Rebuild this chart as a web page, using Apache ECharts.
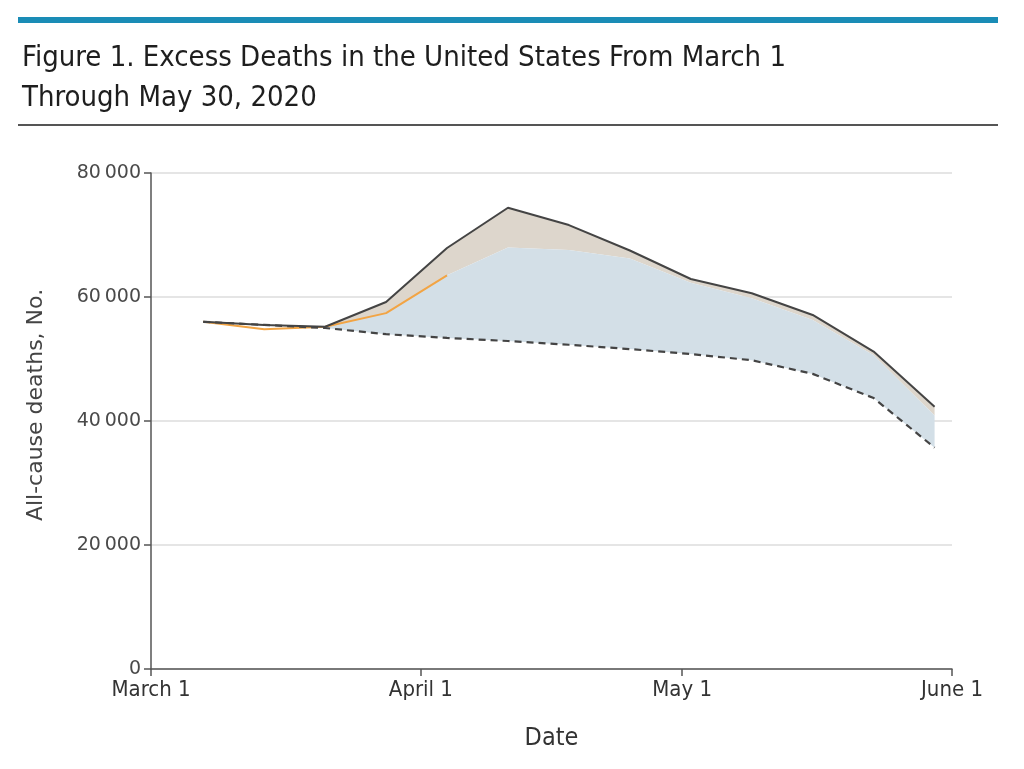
<!DOCTYPE html>
<html>
<head>
<meta charset="utf-8">
<script src="https://cdn.jsdelivr.net/npm/echarts@6/dist/echarts.min.js"></script>
<style>
html,body{margin:0;padding:0;background:#fff;}
#c{width:1024px;height:769px;}
</style>
</head>
<body>
<div id="c"></div>
<script>
// ---- data (weekly, week ending) ----
const weekEnding = ['2020-03-07','2020-03-14','2020-03-21','2020-03-28','2020-04-04','2020-04-11','2020-04-18','2020-04-25','2020-05-02','2020-05-09','2020-05-16','2020-05-23','2020-05-30'];
const totalDeaths = [56000, 55500, 55200, 59200, 67900, 74400, 71600, 67500, 62900, 60600, 57100, 51200, 42300];
const expectedDeaths = [56000, 55500, 55000, 54000, 53400, 52900, 52300, 51600, 50800, 49800, 47600, 43700, 35700];
const covidPlusExpected = [56000, 54800, 55200, 57400, 63500, 68000, 67600, 66200, 62300, 59800, 56300, 50600, 40900];
const orangeShownWeeks = 5;
const monthTicks = ['2020-03-01','2020-04-01','2020-05-01','2020-06-01'];
const monthNames = ['January','February','March','April','May','June','July','August','September','October','November','December'];

function ts(s){ const p = s.split('-').map(Number); return Date.UTC(p[0], p[1]-1, p[2]); }
const origin = ts(monthTicks[0]);
function dayOf(s){ return Math.round((ts(s) - origin) / 86400000); }
function labelOfDay(d){ const dt = new Date(origin + d*86400000); return monthNames[dt.getUTCMonth()] + ' ' + dt.getUTCDate(); }

const xs = weekEnding.map(dayOf);
const tickDays = monthTicks.map(dayOf);
const blueTop = covidPlusExpected.map((v,i)=>Math.max(v, expectedDeaths[i]));

function bandSeries(name, upper, lower, color){
  return {
    name:name, type:'custom', z:2, silent:true,
    data:[[xs[0], lower[0]]],
    renderItem:function(params, api){
      const pts = [];
      for (let i=0;i<xs.length;i++) pts.push(api.coord([xs[i], upper[i]]));
      for (let i=xs.length-1;i>=0;i--) pts.push(api.coord([xs[i], lower[i]]));
      return {type:'polygon', shape:{points:pts}, style:{fill:color}};
    }
  };
}

const condensed = "'Liberation Sans Narrow','DejaVu Sans Condensed','Roboto Condensed',sans-serif";
const wide = "'DejaVu Sans',sans-serif";
const chart = echarts.init(document.getElementById('c'));
chart.setOption({
  animation:false,
  backgroundColor:'#fff',
  title:{
    text:'Figure 1. Excess Deaths in the United States From March 1\nThrough May 30, 2020',
    left:17, top:33,
    textStyle:{fontFamily:condensed, fontSize:29, fontWeight:500, color:'#1e1e1e', lineHeight:40}
  },
  graphic:[
    {type:'rect', shape:{x:18,y:17,width:980,height:6}, style:{fill:'#1a8cb6'}},
    {type:'rect', shape:{x:18,y:124,width:980,height:2}, style:{fill:'#555'}}
  ],
  grid:{left:151, right:72, top:173, bottom:100},
  xAxis:{
    type:'value',
    min:tickDays[0], max:tickDays[tickDays.length-1],
    name:'Date', nameLocation:'middle', nameGap:57,
    nameTextStyle:{fontFamily:condensed, fontSize:25, color:'#333'},
    axisLine:{show:true, lineStyle:{color:'#555', width:1.5}},
    axisTick:{show:true, length:7, lineStyle:{color:'#555', width:1.5}, customValues:tickDays},
    axisLabel:{customValues:tickDays, fontFamily:condensed, fontSize:22, color:'#333', margin:10,
      formatter:function(v){ return labelOfDay(v); }},
    splitLine:{show:false}
  },
  yAxis:{
    type:'value', min:0, max:80000, interval:20000,
    name:'All-cause deaths, No.', nameLocation:'middle', nameGap:104, nameRotate:90,
    nameTextStyle:{fontFamily:wide, fontSize:22, color:'#444', padding:[0,0,0,32]},
    axisLine:{show:true, lineStyle:{color:'#555', width:1.5}},
    axisTick:{show:true, length:7, lineStyle:{color:'#555', width:1.5}},
    axisLabel:{fontFamily:wide, fontSize:19, color:'#4a4a4a', margin:10,
      formatter:function(v){ return v===0 ? '0' : (v/1000)+'\u2009000'; }},
    splitLine:{show:true, lineStyle:{color:'#dcdcdc', width:1.5}}
  },
  series:[
    bandSeries('Excess not attributed', totalDeaths, blueTop, '#ddd6cc'),
    bandSeries('COVID-19 attributed', blueTop, expectedDeaths, '#d3dfe7'),
    {name:'COVID + expected', type:'line', symbol:'none',
      data:xs.slice(0,orangeShownWeeks).map((x,i)=>[x, covidPlusExpected[i]]),
      lineStyle:{color:'#f2a444', width:2}, z:4},
    {name:'Total', type:'line', symbol:'none', data:xs.map((x,i)=>[x, totalDeaths[i]]),
      lineStyle:{color:'#444', width:2}, z:5},
    {name:'Expected', type:'line', symbol:'none', data:xs.map((x,i)=>[x, expectedDeaths[i]]),
      lineStyle:{color:'#444', width:2.2, type:[7,5]}, z:6}
  ]
});
</script>
</body>
</html>
